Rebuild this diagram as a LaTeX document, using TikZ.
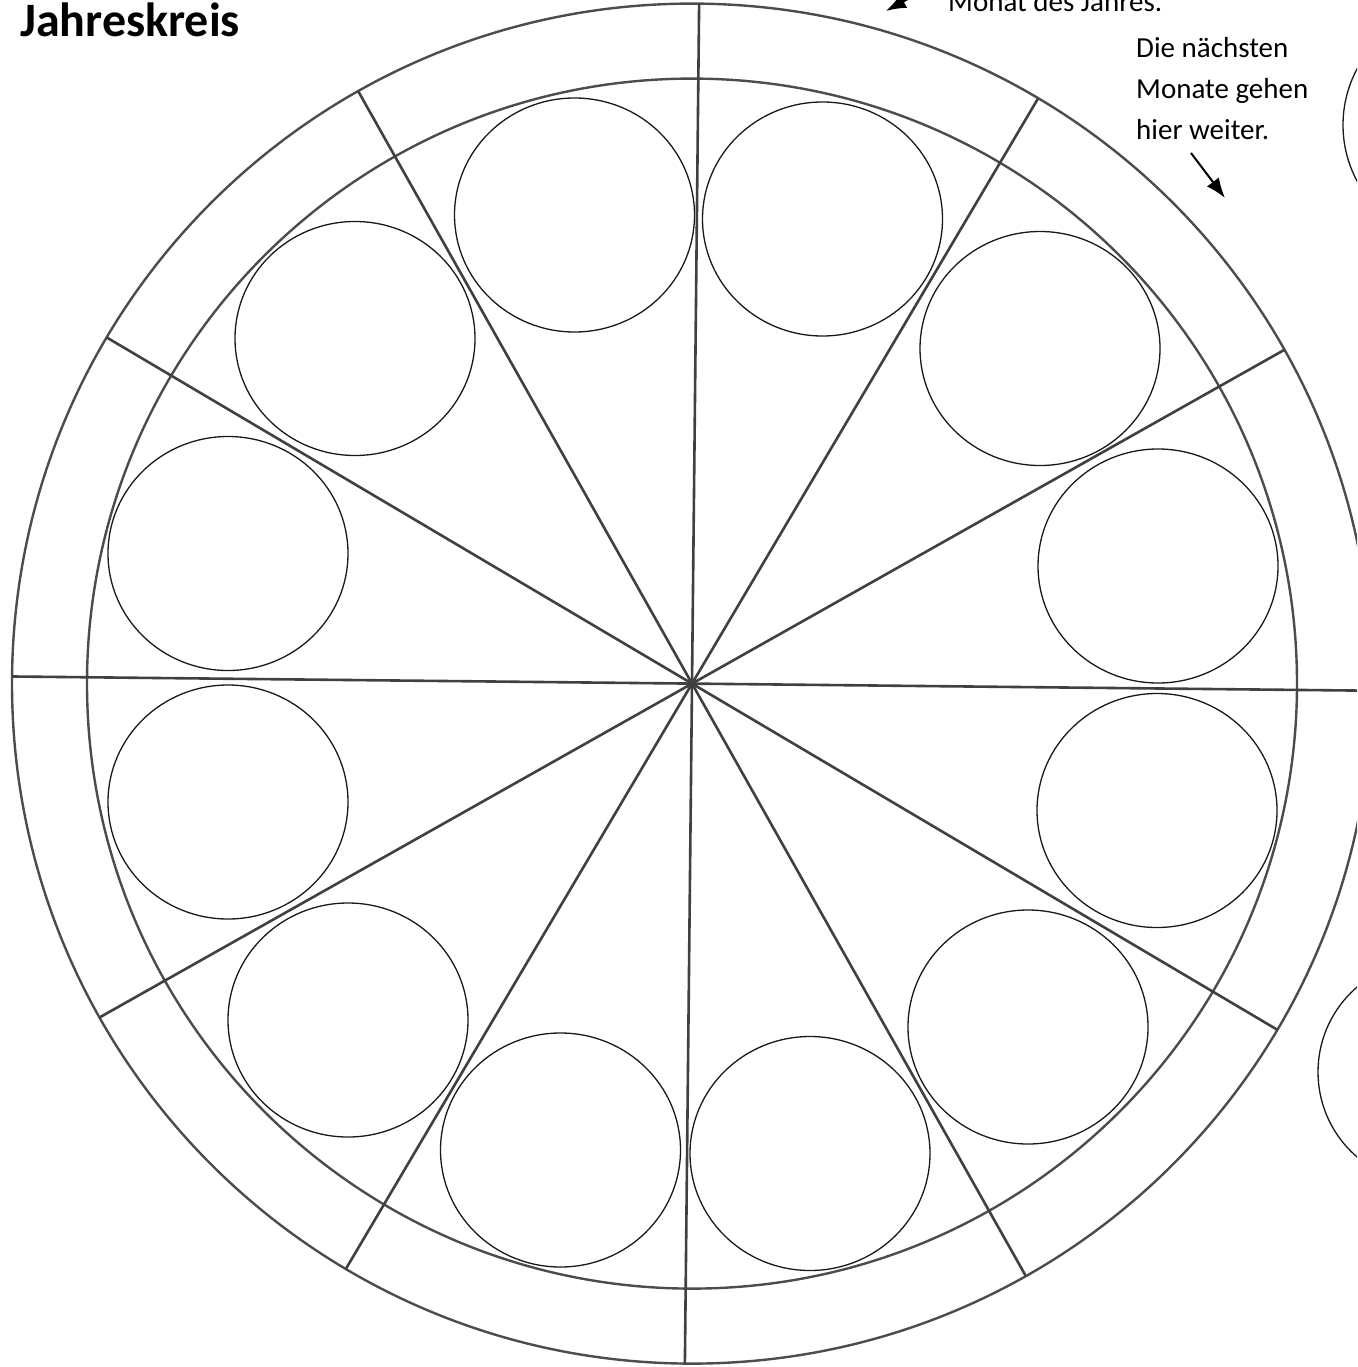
\documentclass[tikz,border=0pt]{standalone}
\usepackage{fontspec}
\setmainfont{Carlito}
\usetikzlibrary{arrows.meta}
\begin{document}
\begin{tikzpicture}[x=1pt,y=-1pt,
  ringline/.style={draw=black!70, line width=2.4pt},
  spokeline/.style={draw=black!75, line width=2.6pt},
  monthcircle/.style={draw=black!90, line width=1.3pt},
  note/.style={font=\fontsize{29}{41}\selectfont, anchor=base west, inner sep=0pt},
  notearrow/.style={-{Latex[length=20pt,width=15pt]}, line width=2pt, black}]
\useasboundingbox (0,0) rectangle (1357,1367);
\clip (0,0) rectangle (1357,1367);
\fill[white] (0,0) rectangle (1357,1367);
\coordinate (c) at (692,683.6);
% rings
\draw[ringline] (c) circle[radius=680];
\draw[ringline] (c) circle[radius=605];
% spokes
\foreach \k in {0,...,11}{
  \draw[spokeline] (c) -- ++({680*cos(30*\k-0.6)},{-680*sin(30*\k-0.6)});
}
% month circles
\foreach \px/\py [count=\i] in {574.5/215, 822.5/219, 1040/348.5, 1158/566, 1157/810.5, 1028/1027, 810/1153.5, 560.5/1150, 348/1020, 228/802, 228/553.5, 355/338.5}{
  \draw[monthcircle] (\px,\py) ellipse[x radius=120, y radius=117];
}
% partial circles of the next page
\draw[monthcircle] (1462,125) circle[radius=119];
\draw[monthcircle] (1430,1072) circle[radius=112];
% title
\node[anchor=base west, inner sep=0pt, font=\fontsize{48}{52}\selectfont\bfseries] (title) at (20,37) {Jahreskreis};
% notes
\node[note] (top) at (948,12) {Monat des Jahres.};
\coordinate (topA) at (935,-16);
\coordinate (topB) at (886,11);
\draw[notearrow] (topA) -- (topB);
\node[note] (n1) at (1136,58) {Die nächsten};
\node[note] (n2) at (1136,99) {Monate gehen};
\node[note] (n3) at (1136,140) {hier weiter.};
\coordinate (nA) at (1191,153);
\coordinate (nB) at (1225,198);
\draw[notearrow] (nA) -- (nB);
\end{tikzpicture}
\end{document}
